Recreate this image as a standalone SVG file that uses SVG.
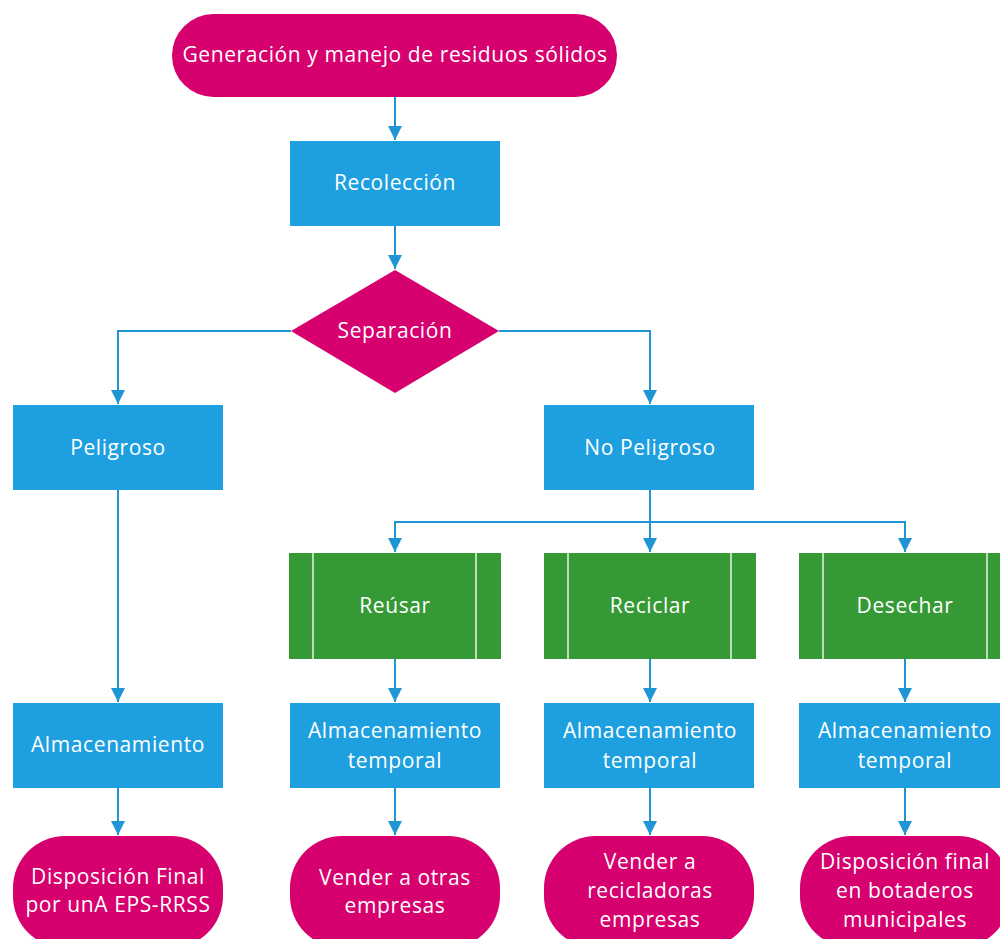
<svg xmlns="http://www.w3.org/2000/svg" width="1000" height="939" viewBox="0 0 1000 939">
<style>
.t{fill:#D6006E}
.b{fill:#1EA0E0}
.g{fill:#359935}
.gl{stroke:#E8F2E0;stroke-width:1.5}
.tx{font-family:"Open Sans","Noto Sans",sans-serif;font-size:21px;letter-spacing:0.6px;fill:#FFFFFF;text-anchor:middle}
.c{fill:none;stroke:#1F95D3;stroke-width:2}
</style>
<defs>
<marker id="ah" viewBox="0 0 14 14" refX="14" refY="7" markerWidth="14" markerHeight="14" markerUnits="userSpaceOnUse" orient="auto">
<path d="M0,0 L14,7 L0,14 z" fill="#1F95D3"/>
</marker>
</defs>
<rect width="1000" height="939" fill="#FFFFFF"/>
<g id="connectors">
<path class="c" d="M395,97 V140" marker-end="url(#ah)"/>
<path class="c" d="M395,226 V269" marker-end="url(#ah)"/>
<path class="c" d="M291,331 H118 V404" marker-end="url(#ah)"/>
<path class="c" d="M499,331 H650 V404" marker-end="url(#ah)"/>
<path class="c" d="M118,490 V702" marker-end="url(#ah)"/>
<path class="c" d="M118,788 V835" marker-end="url(#ah)"/>
<path class="c" d="M650,490 V552" marker-end="url(#ah)"/>
<path class="c" d="M650,522 H395 V552" marker-end="url(#ah)"/>
<path class="c" d="M650,522 H905 V552" marker-end="url(#ah)"/>
<path class="c" d="M395,659 V702" marker-end="url(#ah)"/>
<path class="c" d="M650,659 V702" marker-end="url(#ah)"/>
<path class="c" d="M905,659 V702" marker-end="url(#ah)"/>
<path class="c" d="M395,788 V835" marker-end="url(#ah)"/>
<path class="c" d="M650,788 V835" marker-end="url(#ah)"/>
<path class="c" d="M905,788 V835" marker-end="url(#ah)"/>
</g>
<g id="start">
<rect class="t" x="172" y="14" width="445" height="83" rx="41.5"/>
<text class="tx" x="395" y="62">Generación y manejo de residuos sólidos</text>
</g>
<g id="recoleccion">
<rect class="b" x="290" y="141" width="210" height="85"/>
<text class="tx" x="395" y="190">Recolección</text>
</g>
<g id="separacion">
<path class="t" d="M395,270 L499,331 L395,393 L291,331 z"/>
<text class="tx" x="395" y="338">Separación</text>
</g>
<g id="peligroso">
<rect class="b" x="13" y="405" width="210" height="85"/>
<text class="tx" x="118" y="455">Peligroso</text>
</g>
<g id="nopeligroso">
<rect class="b" x="544" y="405" width="210" height="85"/>
<text class="tx" x="650" y="455">No Peligroso</text>
</g>
<g id="reusar">
<rect class="g" x="289" y="553" width="212" height="106"/>
<path class="gl" d="M313,553 V659 M476,553 V659"/>
<text class="tx" x="395" y="613">Reúsar</text>
</g>
<g id="reciclar">
<rect class="g" x="544" y="553" width="212" height="106"/>
<path class="gl" d="M568,553 V659 M731,553 V659"/>
<text class="tx" x="650" y="613">Reciclar</text>
</g>
<g id="desechar">
<rect class="g" x="799" y="553" width="212" height="106"/>
<path class="gl" d="M823,553 V659 M987,553 V659"/>
<text class="tx" x="905" y="613">Desechar</text>
</g>
<g id="almacenamiento">
<rect class="b" x="13" y="703" width="210" height="85"/>
<text class="tx" x="118" y="752">Almacenamiento</text>
</g>
<g id="alm-temp-1">
<rect class="b" x="290" y="703" width="210" height="85"/>
<text class="tx" x="395" y="738">Almacenamiento</text>
<text class="tx" x="395" y="768">temporal</text>
</g>
<g id="alm-temp-2">
<rect class="b" x="544" y="703" width="210" height="85"/>
<text class="tx" x="650" y="738">Almacenamiento</text>
<text class="tx" x="650" y="768">temporal</text>
</g>
<g id="alm-temp-3">
<rect class="b" x="799" y="703" width="210" height="85"/>
<text class="tx" x="905" y="738">Almacenamiento</text>
<text class="tx" x="905" y="768">temporal</text>
</g>
<g id="fin-1">
<rect class="t" x="13" y="836" width="210" height="112" rx="52"/>
<text class="tx" x="118" y="884">Disposición Final</text>
<text class="tx" x="118" y="912">por unA EPS-RRSS</text>
</g>
<g id="fin-2">
<rect class="t" x="290" y="836" width="210" height="112" rx="52"/>
<text class="tx" x="395" y="885">Vender a otras</text>
<text class="tx" x="395" y="913">empresas</text>
</g>
<g id="fin-3">
<rect class="t" x="544" y="836" width="210" height="112" rx="52"/>
<text class="tx" x="650" y="869">Vender a</text>
<text class="tx" x="650" y="898">recicladoras</text>
<text class="tx" x="650" y="927">empresas</text>
</g>
<g id="fin-4">
<rect class="t" x="800" y="836" width="210" height="112" rx="52"/>
<text class="tx" x="905" y="869">Disposición final</text>
<text class="tx" x="905" y="898">en botaderos</text>
<text class="tx" x="905" y="927">municipales</text>
</g>
</svg>
